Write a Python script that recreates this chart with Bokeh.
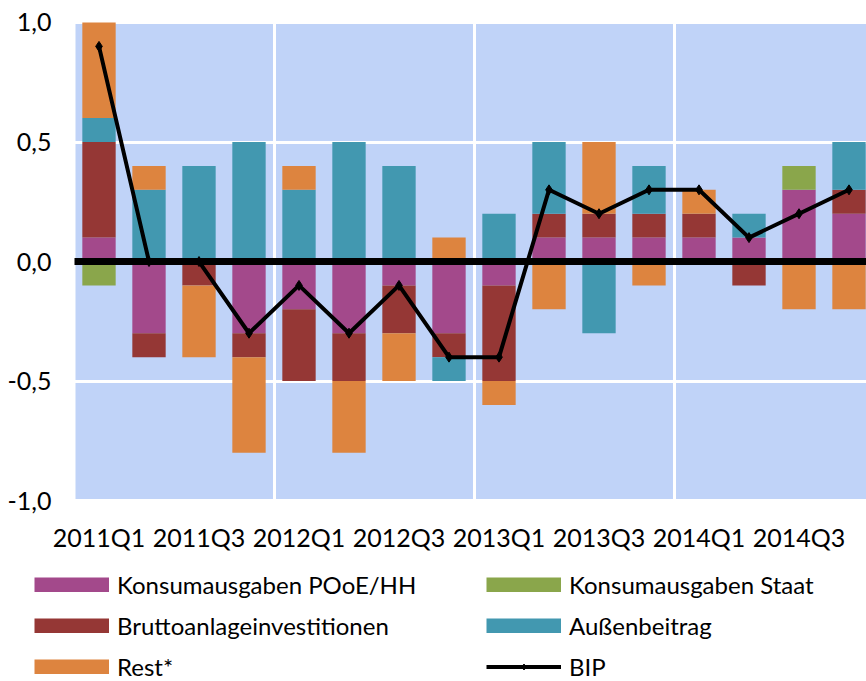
from bokeh.plotting import figure
from bokeh.models import (ColumnDataSource, FixedTicker, CustomJSTickFormatter,
                          Legend, LegendItem, Range1d, LinearAxis, BoxAnnotation)
from bokeh.embed import file_html
from bokeh.resources import INLINE

quarters = ["2011Q1", "2011Q2", "2011Q3", "2011Q4",
            "2012Q1", "2012Q2", "2012Q3", "2012Q4",
            "2013Q1", "2013Q2", "2013Q3", "2013Q4",
            "2014Q1", "2014Q2", "2014Q3", "2014Q4"]

konsum_hh = [0.1, -0.3, 0.0, -0.3, -0.2, -0.3, -0.1, -0.3, -0.1, 0.1, 0.1, 0.1, 0.1, 0.1, 0.3, 0.2]
konsum_staat = [-0.1, 0.0, 0.0, 0.0, 0.0, 0.0, 0.0, 0.0, 0.0, 0.0, 0.0, 0.0, 0.0, 0.0, 0.1, 0.0]
brutto = [0.4, -0.1, -0.1, -0.1, -0.3, -0.2, -0.2, -0.1, -0.4, 0.1, 0.1, 0.1, 0.1, -0.1, 0.0, 0.1]
aussen = [0.1, 0.3, 0.4, 0.5, 0.3, 0.5, 0.4, -0.1, 0.2, 0.3, -0.3, 0.2, 0.0, 0.1, 0.0, 0.2]
rest = [0.4, 0.1, -0.3, -0.4, 0.1, -0.3, -0.2, 0.1, -0.1, -0.2, 0.3, -0.1, 0.1, 0.0, -0.2, -0.2]
bip = [0.9, 0.0, 0.0, -0.3, -0.1, -0.3, -0.1, -0.4, -0.4, 0.3, 0.2, 0.3, 0.3, 0.1, 0.2, 0.3]

series_names = ["Konsumausgaben POoE/HH", "Konsumausgaben Staat",
                "Bruttoanlageinvestitionen", "Außenbeitrag", "Rest*"]
series_values = [konsum_hh, konsum_staat, brutto, aussen, rest]
series_colors = ["#A3498B", "#8AA64B", "#953735", "#4298B0", "#DD843F"]
y_ticks = [-1.0, -0.5, 0.0, 0.5, 1.0]
x_label_ticks = [0, 2, 4, 6, 8, 10, 12, 14]
year_breaks = [3.5, 7.5, 11.5]

FONT = "Lato"
NAN = float("nan")
BG = "#C0D3F8"
X_LEFT = -0.47          # left edge of the plotting area (category units)
Y_MIN, Y_MAX = -1.0, 1.0

# the frame covers the whole canvas; the blue plotting area is an annotation box
p = figure(width=866, height=681, output_backend="svg", toolbar_location=None,
           x_range=Range1d(-1.97, 15.35), y_range=Range1d(-1.757, 1.092),
           min_border_left=0, min_border_right=0, min_border_top=0,
           min_border_bottom=0)
p.background_fill_color = "white"
p.border_fill_color = "white"
p.outline_line_color = None

p.add_layout(BoxAnnotation(left=X_LEFT, bottom=Y_MIN, top=Y_MAX, fill_color=BG,
                           fill_alpha=1.0, line_color=None, level="image"))

xs = list(range(len(quarters)))
pos_base = [0.0] * len(xs)
neg_base = [0.0] * len(xs)
for name, vals, col in zip(series_names, series_values, series_colors):
    bottoms, tops = [], []
    for i, v in enumerate(vals):
        if v >= 0:
            bottoms.append(pos_base[i]); tops.append(pos_base[i] + v); pos_base[i] += v
        else:
            bottoms.append(neg_base[i]); tops.append(neg_base[i] + v); neg_base[i] += v
    src = ColumnDataSource(dict(x=xs, bottom=bottoms, top=tops))
    p.vbar(x="x", bottom="bottom", top="top", width=0.667, source=src,
           fill_color=col, line_color=None)

bip_src = ColumnDataSource(dict(x=xs, y=bip))
p.line("x", "y", source=bip_src, line_color="black", line_width=4)
p.scatter("x", "y", source=bip_src, marker="diamond", size=10,
          fill_color="black", line_color="black")

# grids (white lines only show on the blue area)
p.ygrid.ticker = FixedTicker(ticks=y_ticks)
p.ygrid.grid_line_color = "white"
p.ygrid.grid_line_width = 3
p.xgrid.ticker = FixedTicker(ticks=year_breaks)
p.xgrid.grid_line_color = "white"
p.xgrid.grid_line_width = 3

# axes pinned to the edges of the plotting area
p.yaxis.fixed_location = X_LEFT
p.xaxis.fixed_location = Y_MIN
p.yaxis.ticker = FixedTicker(ticks=y_ticks)
p.yaxis.formatter = CustomJSTickFormatter(code="return tick.toFixed(1).replace('.', ',');")
p.xaxis.ticker = FixedTicker(ticks=x_label_ticks)
p.xaxis.formatter = CustomJSTickFormatter(args=dict(labels=quarters),
                                          code="return labels[Math.round(tick)];")
for ax in (p.xaxis[0], p.yaxis[0]):
    ax.axis_line_color = None
    ax.major_tick_line_color = None
    ax.minor_tick_line_color = None
    ax.major_tick_out = 0
    ax.major_tick_in = 0
    ax.minor_tick_out = 0
    ax.minor_tick_in = 0
    ax.major_label_text_font = FONT
    ax.major_label_text_font_size = "25px"
    ax.major_label_text_color = "black"
p.yaxis.major_label_standoff = 24
p.xaxis.major_label_standoff = 21

# thick zero line: an axis line pinned at y=0 and bounded to the plotting area
zero_axis = LinearAxis(fixed_location=0.0, bounds=(-0.5, 15.35),
                       ticker=FixedTicker(ticks=[]), axis_line_color="black",
                       axis_line_width=7, major_tick_line_color=None,
                       minor_tick_line_color=None, major_label_text_alpha=0)
p.add_layout(zero_axis, "below")

# legend proxies: invisible single-NaN lines used only for the legend swatches
proxies = [p.line(x=[NAN], y=[NAN], line_color=c, line_width=15, line_cap="butt")
           for c in series_colors]
bip_proxy_line = p.line(x=[NAN], y=[NAN], line_color="black", line_width=4)
bip_proxy_pts = p.scatter(x=[NAN], y=[NAN], marker="diamond", size=10,
                          fill_color="black", line_color="black")

def make_legend(items, vx):
    return Legend(items=items, location=(vx, 0), orientation="vertical",
                  glyph_width=75, glyph_height=15, label_standoff=8,
                  label_text_font=FONT, label_text_font_size="24px",
                  label_text_color="black", label_height=29, spacing=12,
                  padding=0, margin=0, border_line_color=None,
                  background_fill_alpha=0)

leg1 = make_legend([LegendItem(label=series_names[0], renderers=[proxies[0]]),
                    LegendItem(label=series_names[2], renderers=[proxies[2]]),
                    LegendItem(label=series_names[4], renderers=[proxies[4]])], 34)
leg2 = make_legend([LegendItem(label=series_names[1], renderers=[proxies[1]]),
                    LegendItem(label=series_names[3], renderers=[proxies[3]]),
                    LegendItem(label="BIP", renderers=[bip_proxy_line, bip_proxy_pts])], 486)
p.add_layout(leg1, "center")
p.add_layout(leg2, "center")

open("out.html", "w").write(file_html(p, INLINE))
